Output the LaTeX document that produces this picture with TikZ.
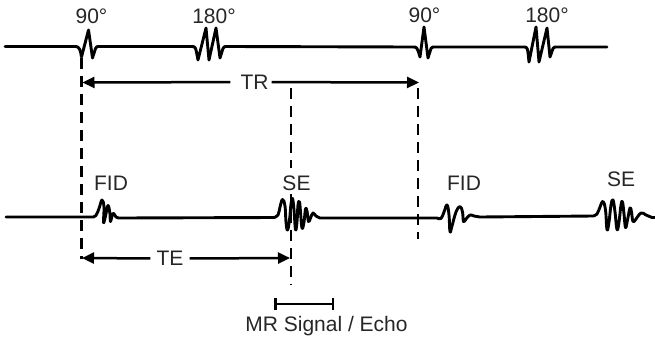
\documentclass[tikz,border=0pt]{standalone}
\usepackage{fontspec}
\setmainfont{Liberation Sans}
\usetikzlibrary{arrows.meta}
\begin{document}
\begin{tikzpicture}[x=1pt,y=-1pt,
  wave/.style={line width=2.9pt, line join=round, line cap=round},
  dashline/.style={line width=2.6pt, dash pattern=on 11pt off 7pt},
  arr/.style={line width=2.5pt, -{Triangle[length=12pt,width=11pt]}},
  bracketline/.style={line width=2.5pt, {Bar[width=12pt,line width=2.5pt]}-{Bar[width=12pt,line width=2.5pt]}},
  lbl/.style={font=\fontsize{21}{25}\selectfont, inner sep=0pt, anchor=base, text=black!85},
]
\useasboundingbox (0,0) rectangle (655,338);

% RF pulse line
\draw[wave] (5,46.5) -- (76,46.5) .. controls (79,46.5) and (80.5,50) .. (81.5,57)
  -- (88.5,30) -- (92.5,58) -- (95.5,48.5) .. controls (96.5,46.5) .. (100,46.5)
  -- (192,46.5) .. controls (195.5,46.5) .. (198,60) -- (206,28) -- (209,60) -- (216,28) -- (220,58)
  -- (223,48.5) .. controls (224,46.5) .. (228,46.5)
  -- (413,47) .. controls (417,47) .. (420,57) -- (424,27) -- (428,58) -- (431,48.5)
  .. controls (432,47) .. (436,47)
  -- (524,47) .. controls (527.5,47) .. (529,62) -- (536,27) -- (539,62) -- (547,28) -- (550,57)
  -- (553,48.5) .. controls (554,47) .. (558,47) -- (607,47);

% signal line
\draw[wave] (6,217) -- (92,217)
  --plot[smooth,tension=0.7] coordinates {(92,217) (96,215.5) (99.5,207) (102,200) (104,207) (103.5,222.5) (105.5,216) (108,205.5) (110,214) (110.5,221.5) (113,213.5) (116,217) (119,218)}
  -- (274,217.5)
  --plot[smooth,tension=0.7] coordinates {(274,217.5) (278,215) (280,207) (282.5,199.5) (285,206) (286,222) (287.5,230) (289.5,220) (291,204) (292.5,198.5) (294,210) (295.5,229.5) (297,222) (298,205) (299.5,202) (300.5,212) (302,228) (304,222) (305.5,209) (307,211) (308.5,221.5) (310.5,218) (313,213) (316,216) (320,218)}
  -- (437,218)
  --plot[smooth,tension=0.7] coordinates {(437,218) (441,218.5) (444,212) (447,205) (449,215) (450,231.5) (452,226) (456,212) (460,206.5) (462.5,212) (463.5,221.5) (466,219) (470,215) (474,216) (480,217)}
  -- (593,216)
  --plot[smooth,tension=0.7] coordinates {(593,216) (597,214) (600,207) (603,201.5) (605.5,210) (607,229.5) (609,222) (611,205) (613,200) (615,212) (617,229.5) (619,222) (621,205) (622.5,202) (624,214) (625.5,227.5) (627.5,220) (630,208) (631.5,212) (633,221.5) (636,219) (641,213) (646,215) (652,217.5)}
  -- (656,217.5);

% pulse labels
\node[lbl] (p90a) at (91.5,23.3) {90°};
\node[lbl] (p180a) at (214,23.3) {180°};
\node[lbl] (p90b) at (424.5,22.7) {90°};
\node[lbl] (p180b) at (547,22.7) {180°};

% signal labels
\node[lbl] (fida) at (111,190) {FID};
\node[lbl] (sea) at (296.5,190) {SE};
\node[lbl] (fidb) at (464,190) {FID};
\node[lbl] (seb) at (621,186) {SE};

% dashed guides
\coordinate (dLt) at (81.5,58);  \coordinate (dLb) at (81.5,259);
\coordinate (dMt) at (291,88);   \coordinate (dMb) at (291,285);
\coordinate (dRt) at (418,88);   \coordinate (dRb) at (418,239);
\draw[dashline] (dLt) -- (dLb);
\draw[dashline] (dMt) -- ([yshift=7pt]sea.north -| dMt);
\draw[dashline] ([yshift=-4pt]sea.south -| dMt) -- (dMb);
\draw[dashline] (dRt) -- (dRb);

% TR
\node[lbl] (TR) at (254.5,89.3) {TR};
\coordinate (trL) at (82.5,82.5);
\coordinate (trR) at (419,82.5);
\draw[arr] ([xshift=-10pt]TR.west) -- (trL);
\draw[arr] ([xshift=3pt]TR.east) -- (trR);

% TE
\node[lbl] (TE) at (170,265.7) {TE};
\coordinate (teL) at (82,258);
\coordinate (teR) at (290,258);
\draw[arr] ([xshift=-6pt]TE.west) -- (teL);
\draw[arr] ([xshift=6pt]TE.east) -- (teR);

% MR signal bracket
\coordinate (bL) at (274,304);
\coordinate (bR) at (334,304);
\draw[bracketline] (bL) -- (bR);
\node[lbl] (mr) at (326.5,331) {MR Signal / Echo};
\end{tikzpicture}
\end{document}
